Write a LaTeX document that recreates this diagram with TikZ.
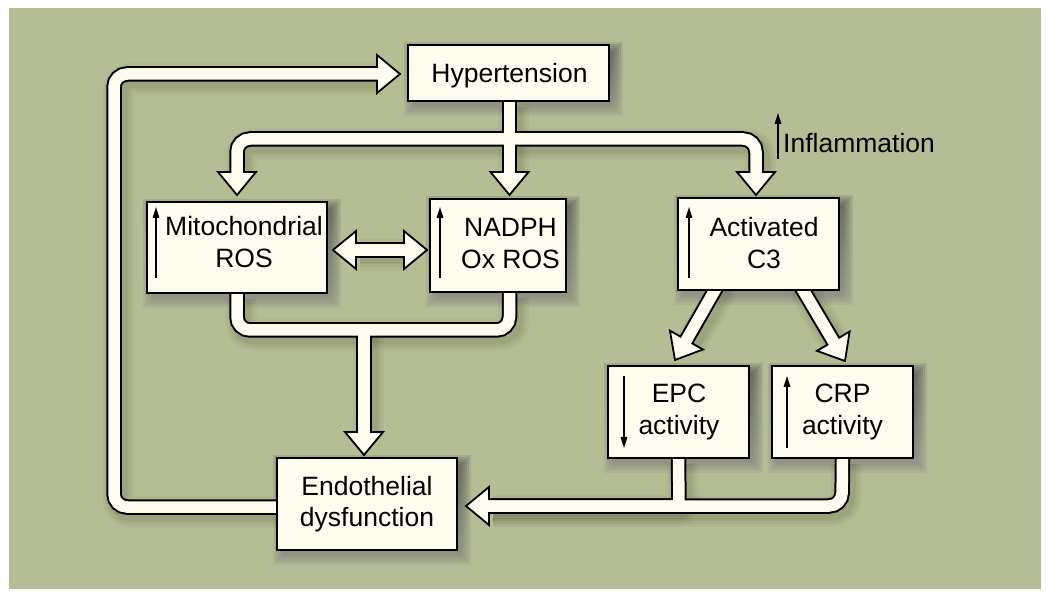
\documentclass[tikz,border=0pt]{standalone}
\usepackage{fontspec}
\setmainfont{Liberation Sans}
\usetikzlibrary{arrows.meta,calc,backgrounds}
\definecolor{bgolive}{HTML}{B5BD94}
\definecolor{cream}{HTML}{FEFCEE}
\definecolor{shade}{HTML}{4A5230}
\tikzset{
  box/.style={draw=black, line width=1.6pt, fill=cream, inner sep=0pt},
  txt/.style={inner sep=0pt, font=\fontsize{26.5pt}{31.5pt}\selectfont},
  thinarr/.style={line width=1.5pt, -{Triangle[length=11pt,width=6.5pt]}},
  shaftout/.style={draw=black, line width=15.5pt, rounded corners=13pt},
  shaftin/.style={draw=cream, line width=11.5pt, rounded corners=13pt, shorten >=-2.5pt, shorten <=-2.5pt},
  headst/.style={fill=cream, draw=black, line width=1.8pt, line join=miter},
}
\newcommand\Shafts[1]{%
  \draw[#1] (hyp.south -| jA) -- (bNad);
  \draw[#1] (bMito) -- (jL) -- (jR) -- (bC3);
  \draw[#1] (bDL) -- (bDR);
  \draw[#1] (mito.south) -- (jML) -- (jMR) -- (nadph.south -| jMR);
  \draw[#1] (jMD) -- (bE);
  \draw[#1] (sEPC) -- (bEPC);
  \draw[#1] (sCRP) -- (bCRP);
  \draw[#1, rounded corners=6pt] (epc.south) -- (cEPC) -- (bEndoR);
  \draw[#1] (crp.south) -- (cCRP) -- (bEndoR);
  \draw[#1] (endo.west |- lB) -- (lB) -- (lC) -- (bHyp);
}
\newcommand\Head[2]{%
  \filldraw[headst] ($(#1)!19pt!90:(#2)$) -- (#2) -- ($(#1)!19pt!-90:(#2)$) -- cycle;
}
\begin{document}
\begin{tikzpicture}[x=1pt, y=-1pt]
\useasboundingbox (0,0) rectangle (1050,601);

% boxes
\node[box, minimum width=201pt, minimum height=56pt] (hyp)   at (508.5,73)  {};
\node[box, minimum width=180pt, minimum height=91pt] (mito)  at (237,247.5) {};
\node[box, minimum width=136pt, minimum height=93pt] (nadph) at (498,245.5) {};
\node[box, minimum width=161pt, minimum height=92pt] (c3)    at (758.5,244) {};
\node[box, minimum width=141pt, minimum height=92pt] (epc)   at (678.5,412) {};
\node[box, minimum width=141pt, minimum height=92pt] (crp)   at (842.5,412) {};
\node[box, minimum width=180pt, minimum height=92pt] (endo)  at (367,504)   {};

% texts
\node[txt, anchor=base] (hypT)   at (509.5,83) {Hypertension};
\node[txt, anchor=base] (mitoT)  at (244,236)  {\begin{tabular}[t]{@{}c@{}}Mitochondrial\\ROS\end{tabular}};
\node[txt, anchor=base] (nadphT) at (510.5,237) {\begin{tabular}[t]{@{}c@{}}NADPH\\Ox ROS\end{tabular}};
\node[txt, anchor=base] (c3T)    at (764,237)  {\begin{tabular}[t]{@{}c@{}}Activated\\C3\end{tabular}};
\node[txt, anchor=base] (epcT)   at (679,403)  {\begin{tabular}[t]{@{}c@{}}EPC\\activity\end{tabular}};
\node[txt, anchor=base] (crpT)   at (842.5,403) {\begin{tabular}[t]{@{}c@{}}CRP\\activity\end{tabular}};
\node[txt, anchor=base] (endoT)  at (367,495)  {\begin{tabular}[t]{@{}c@{}}Endothelial\\dysfunction\end{tabular}};
\node[txt, anchor=base west] (infl) at (783,153) {Inflammation};

% small up/down arrows
\draw[thinarr] (778,159) -- (778,113);
\draw[thinarr] (156,278) -- (156,207);
\draw[thinarr] (440,278) -- (440,207);
\draw[thinarr] (689,278) -- (689,207);
\draw[thinarr] (624,376) -- (624,448);
\draw[thinarr] (787,448) -- (787,376);

% coordinates of the wide arrows
\coordinate (jA) at (509.5,139);
\coordinate (jL) at (237,139);
\coordinate (jR) at (756,139);
\coordinate (tMito) at (237,195);   \coordinate (bMito) at (237,172);
\coordinate (tNad) at (509.5,195);  \coordinate (bNad) at (509.5,172);
\coordinate (tC3) at (756,195);     \coordinate (bC3) at (756,172);
\coordinate (tDL) at (333,250);     \coordinate (bDL) at (356,250);
\coordinate (tDR) at (427,250);     \coordinate (bDR) at (404,250);
\coordinate (jML) at (237,330);     \coordinate (jMR) at (509.5,330);
\coordinate (jMD) at (364,330);
\coordinate (tE) at (364,455);      \coordinate (bE) at (364,432);
\coordinate (s1) at (715,290);      \coordinate (tEPC) at (675,360);
\coordinate (s2) at (803,290);      \coordinate (tCRP) at (845,361);
\coordinate (bEPC) at ($(tEPC)!23pt!(s1)$);
\coordinate (bCRP) at ($(tCRP)!23pt!(s2)$);
\coordinate (sEPC) at ($(s1)!-9pt!(tEPC)$);
\coordinate (sCRP) at ($(s2)!-9pt!(tCRP)$);
\coordinate (cEPC) at (679,506);    \coordinate (cCRP) at (842,506);
\coordinate (tEndoR) at (466,506);  \coordinate (bEndoR) at (489,506);
\coordinate (lB) at (114,507);      \coordinate (lC) at (114,74);
\coordinate (tHyp) at (400,74);     \coordinate (bHyp) at (377,74);

\begin{pgfonlayer}{background}
  \fill[white] (0,0) rectangle (1050,601);
  \fill[bgolive] (9,8) rectangle (1041,589);
  % soft shadows
  \foreach \n in {hyp,mito,nadph,c3,epc,crp,endo}{
    \foreach \e in {-2,0,2,4,6,8}{
      \fill[shade, opacity=0.08] ($(\n.north west)+(5-\e,6-\e)$) rectangle ($(\n.south east)+(5+\e,6+\e)$);
    }
  }
  \foreach \w/\o in {31/0.06,25/0.08,19/0.1}{
    \Shafts{draw=shade, opacity=\o, line width=\w pt, rounded corners=13pt, transform canvas={shift={(4pt,-5pt)}}}
  }
  % wide arrows
  \Shafts{shaftout}
  \Head{bMito}{tMito}
  \Head{bNad}{tNad}
  \Head{bC3}{tC3}
  \Head{bDL}{tDL}
  \Head{bDR}{tDR}
  \Head{bE}{tE}
  \Head{bEPC}{tEPC}
  \Head{bCRP}{tCRP}
  \Head{bEndoR}{tEndoR}
  \Head{bHyp}{tHyp}
  \Shafts{shaftin}
\end{pgfonlayer}
\end{tikzpicture}
\end{document}
